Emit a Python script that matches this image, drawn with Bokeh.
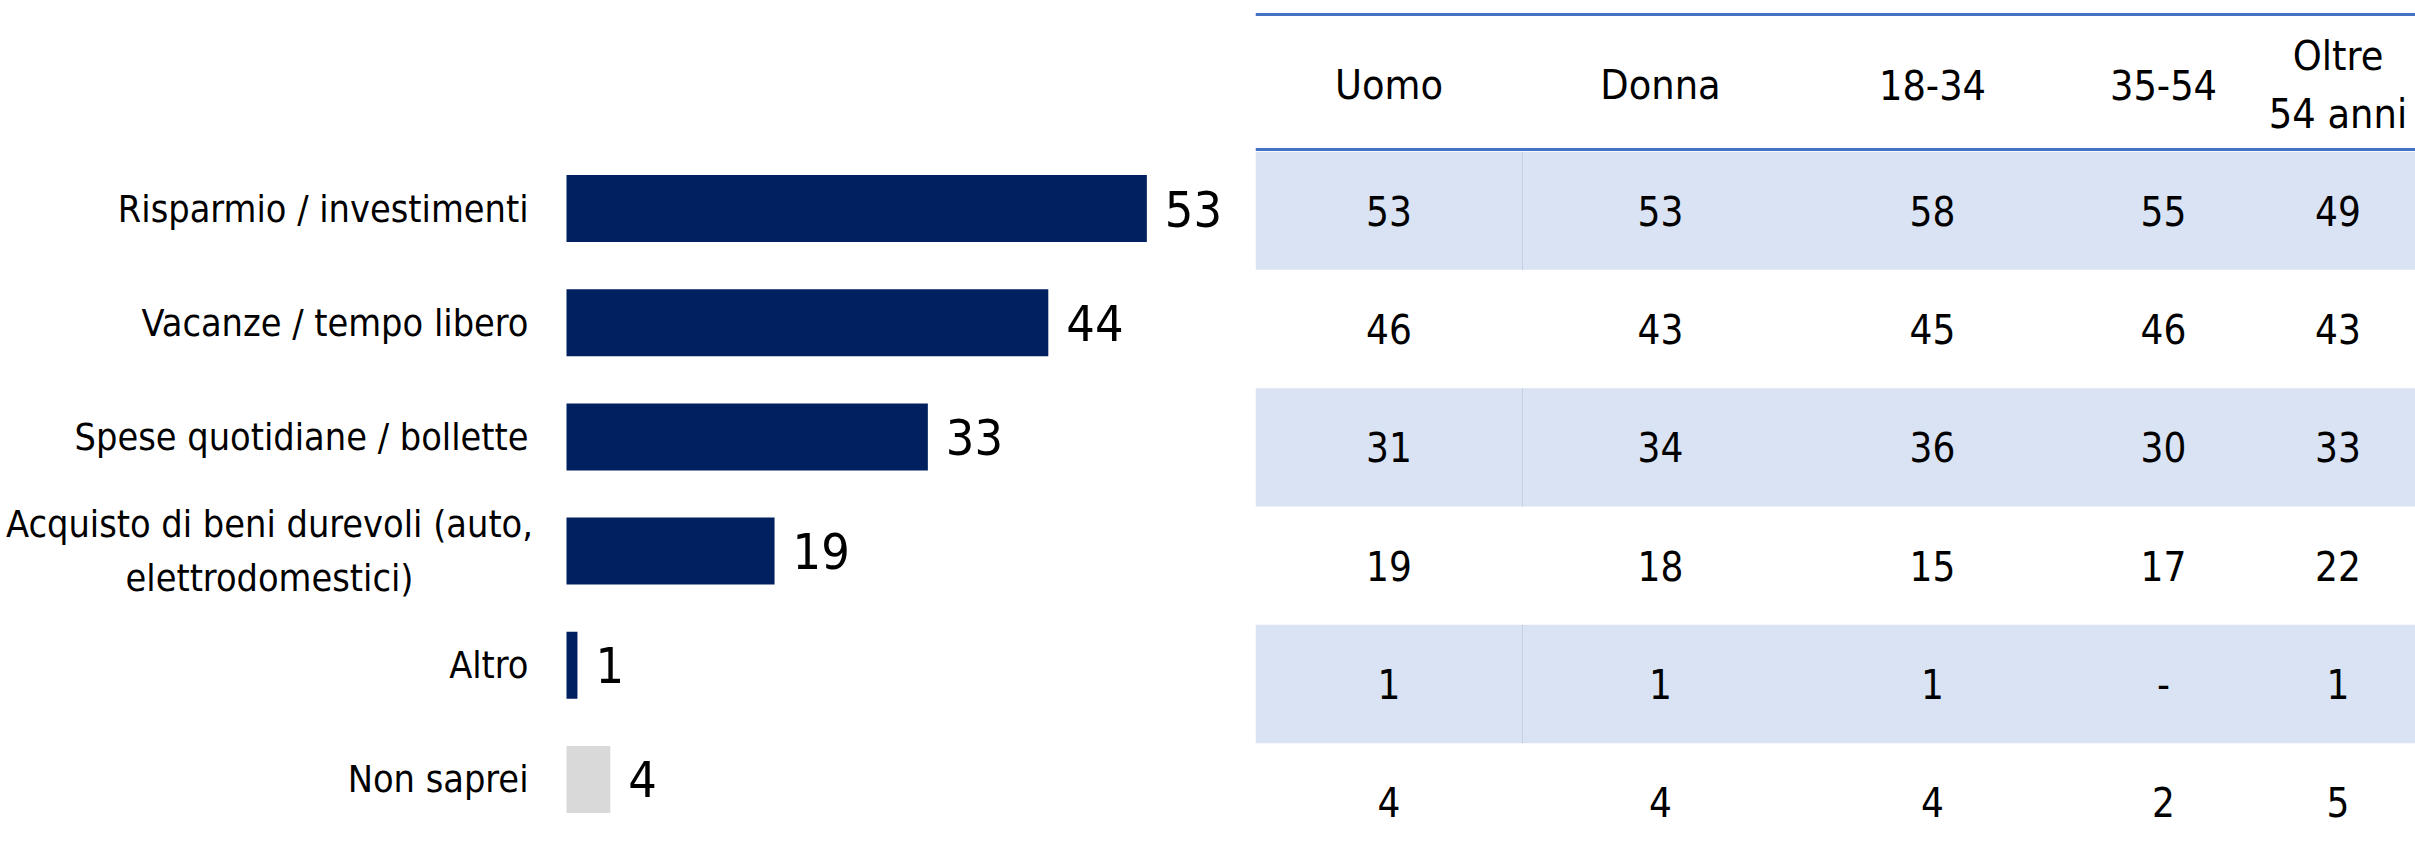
from bokeh.plotting import figure
from bokeh.layouts import row, column
from bokeh.models import ColumnDataSource, FactorRange, Range1d
from bokeh.core.properties import value
from bokeh.embed import file_html
from bokeh.resources import INLINE

# ---------------- data ----------------
categories = [
    "Risparmio / investimenti",
    "Vacanze / tempo libero",
    "Spese quotidiane / bollette",
    "Acquisto di beni durevoli (auto,\nelettrodomestici)",
    "Altro",
    "Non saprei",
]
totale = [53, 44, 33, 19, 1, 4]

columns = ["Uomo", "Donna", "18-34", "35-54", "Oltre\n54 anni"]
uomo = [53, 46, 31, 19, 1, 4]
donna = [53, 43, 34, 18, 1, 4]
eta_18_34 = [58, 45, 36, 15, 1, 4]
eta_35_54 = [55, 46, 30, 17, None, 2]
eta_oltre_54 = [49, 43, 33, 22, 1, 5]

# ---------------- style / layout ----------------
FONT = "DejaVu Sans Condensed"
NAVY = "#002060"
GREY = "#D9D9D9"
SHADE = "#DAE3F3"
RULE = "#4472C4"
SEP = "#C5CFE3"
H = 861
W_LEFT = 1255
BAR_X0 = 566          # px position of the zero line inside the left figure
PX_PER_UNIT = 10.95
COL_W = [267, 276, 268, 194, 155]   # table column widths (px)
W_TABLE = sum(COL_W)
HDR_H = 151
BODY_H = H - HDR_H

factors = list(reversed(categories))

# ---------------- left: bar chart ----------------
p = figure(width=W_LEFT, height=H, output_backend="svg", toolbar_location=None,
           x_range=Range1d(-BAR_X0 / PX_PER_UNIT, (W_LEFT - BAR_X0) / PX_PER_UNIT),
           y_range=FactorRange(factors=factors),
           x_axis_location=None, y_axis_location=None,
           min_border_left=0, min_border_right=0, min_border_top=151, min_border_bottom=25)
p.outline_line_color = None
p.grid.visible = False

is_multi = ["\n" in c for c in categories]
src = ColumnDataSource(dict(
    cat=categories,
    val=totale,
    val_str=[str(v) for v in totale],
    color=[GREY if c == "Non saprei" else NAVY for c in categories],
    lab_align=["center" if m else "right" for m in is_multi],
    lab_off=[-297 if m else -38 for m in is_multi],
    zero=[0] * len(categories),
))
p.hbar(y="cat", left="zero", right="val", height=0.587, fill_color="color",
       line_color=None, source=src)
p.text(x="val", y="cat", text="val_str", x_offset=18, text_align="left",
       text_baseline="middle", text_font=value(FONT), text_font_size="50px",
       text_color="black", source=src)
p.text(x="zero", y="cat", text="cat", x_offset="lab_off", text_align="lab_align",
       text_baseline="middle", text_font=value(FONT), text_font_size="37.5px",
       text_color="black", text_line_height=1.22, source=src)

# ---------------- right: table ----------------
table_vals = [uomo, donna, eta_18_34, eta_35_54, eta_oltre_54]
col_left = [sum(COL_W[:k]) for k in range(len(COL_W))]
col_center = [l + w / 2 for l, w in zip(col_left, COL_W)]
xr = Range1d(0, W_TABLE)

# header with the two blue rules
h = figure(width=W_TABLE, height=HDR_H, output_backend="svg", toolbar_location=None,
           x_range=xr, y_range=Range1d(0, HDR_H),
           x_axis_location=None, y_axis_location=None, min_border=0)
h.outline_line_color = None
h.grid.visible = False
h.hspan(y=[HDR_H - 13.5, 2], line_color=RULE, line_width=3)
h.text(x="xc", y="yc", text="txt", text_align="center", text_baseline="middle",
       text_font=value(FONT), text_font_size="41px", text_color="black",
       text_line_height=1.22,
       source=ColumnDataSource(dict(xc=col_center, yc=[HDR_H - 84.5] * len(columns),
                                    txt=columns)))

# body
f = figure(width=W_TABLE, height=BODY_H, output_backend="svg", toolbar_location=None,
           x_range=xr, y_range=FactorRange(factors=factors),
           x_axis_location=None, y_axis_location=None, min_border=0)
f.outline_line_color = None
f.grid.visible = False
shaded = [c for k, c in enumerate(categories) if k % 2 == 0]
f.hbar(y="cat", left="l", right="r", height=1, fill_color=SHADE, line_color=None,
       source=ColumnDataSource(dict(cat=shaded, l=[0] * len(shaded),
                                    r=[W_TABLE] * len(shaded))))
f.segment(x0="x", y0="y0", x1="x", y1="y1", line_color=SEP, line_width=1,
          source=ColumnDataSource(dict(x=[COL_W[0]] * len(shaded),
                                       y0=[(c, -0.5) for c in shaded],
                                       y1=[(c, 0.5) for c in shaded])))
cells = dict(xc=[], cat=[], txt=[])
for xc, vals in zip(col_center, table_vals):
    for c, v in zip(categories, vals):
        cells["xc"].append(xc)
        cells["cat"].append(c)
        cells["txt"].append("-" if v is None else str(v))
f.text(x="xc", y="cat", text="txt", text_align="center", text_baseline="middle",
       text_font=value(FONT), text_font_size="40px", text_color="black",
       source=ColumnDataSource(cells))

layout = row(p, column(h, f))

open("out.html", "w").write(file_html(layout, INLINE))
